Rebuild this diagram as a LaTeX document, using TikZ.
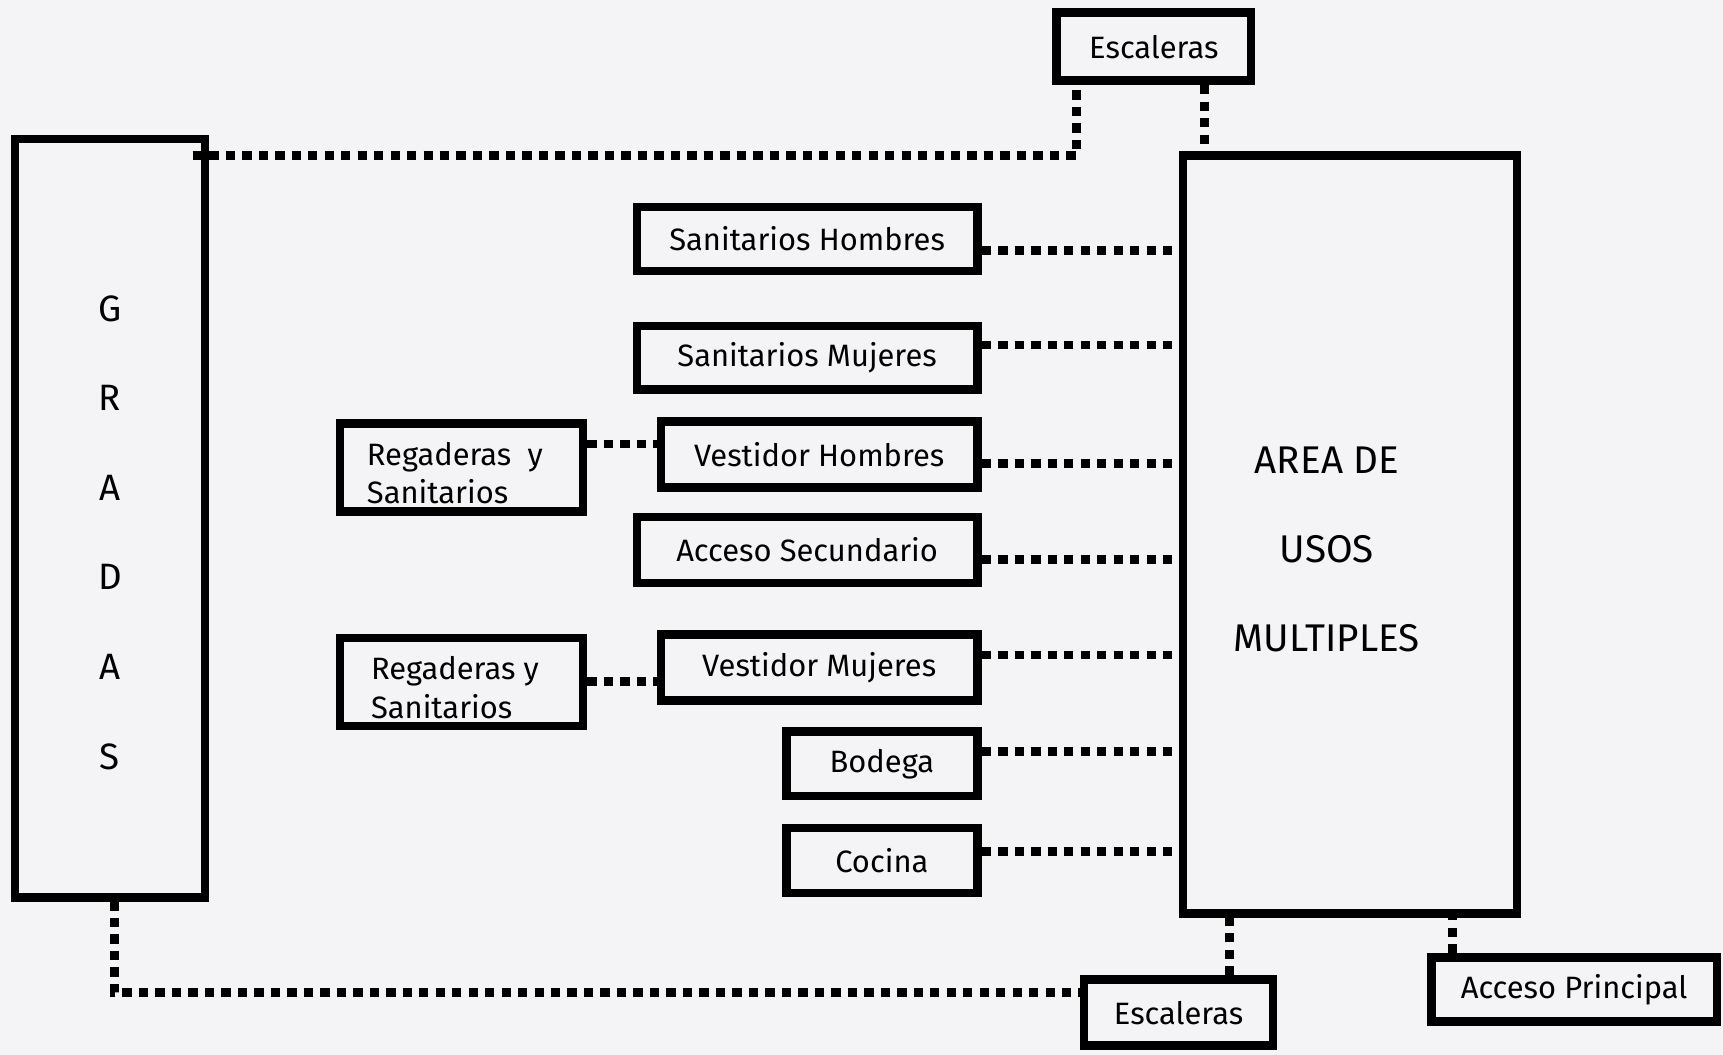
\documentclass[tikz,border=0pt]{standalone}
\usepackage{fontspec}
\setmainfont{Fira Sans}
\usetikzlibrary{calc}
\definecolor{papel}{RGB}{244,244,247}
\tikzset{
	caja/.style={draw, rectangle, line width=0.078cm, inner sep=0pt,
			font=\fontsize{8}{10}\selectfont},
	punteado/.style={line width=0.08cm, dash pattern=on 0.085cm off 0.065cm}
}

\begin{document}
\begin{tikzpicture}
	\fill[papel] (0,0) rectangle (15.68,-9.60);
	\useasboundingbox (0,0) rectangle (15.68,-9.60);

	% bloques grandes
	\node[caja, minimum width=1.73cm, minimum height=6.90cm,
		label={[align=center, yshift=-0.13cm, font=\fontsize{9.5}{23.2}\selectfont]center:G\\R\\A\\D\\A\\S}] (gradas) at (1.00,-4.715) {};
	\node[caja, minimum width=3.04cm, minimum height=6.90cm,
		label={[align=center, shift={(-0.21,-0.135)}, font=\fontsize{10}{23.1}\selectfont]center:AREA DE\\USOS\\MULTIPLES}] (area) at (12.285,-4.865) {};

	\node[caja, minimum width=1.77cm, minimum height=0.62cm] (escArr) at (10.50,-0.425) {Escaleras};
	\node[caja, minimum width=1.72cm, minimum height=0.60cm] (escAb) at (10.725,-9.215) {Escaleras};
	\node[caja, minimum width=2.60cm, minimum height=0.58cm] (accP) at (14.325,-9.005) {Acceso Principal};

	% columna de locales
	\node[caja, minimum width=3.10cm, minimum height=0.58cm] (sanH) at (7.345,-2.175) {Sanitarios Hombres};
	\node[caja, minimum width=3.10cm, minimum height=0.58cm] (sanM) at (7.345,-3.255) {Sanitarios Mujeres};
	\node[caja, minimum width=2.88cm, minimum height=0.60cm] (vesH) at (7.455,-4.135) {Vestidor Hombres};
	\node[caja, minimum width=3.10cm, minimum height=0.60cm] (accS) at (7.345,-5.005) {Acceso Secundario};
	\node[caja, minimum width=2.88cm, minimum height=0.60cm] (vesM) at (7.455,-6.075) {Vestidor Mujeres};
	\node[caja, minimum width=1.74cm, minimum height=0.59cm] (bod) at (8.025,-6.95) {Bodega};
	\node[caja, minimum width=1.74cm, minimum height=0.59cm] (coc) at (8.025,-7.83) {Cocina};

	\node[caja, minimum width=2.21cm, minimum height=0.80cm,
		label={[align=left, shift={(-0.06,-0.05)}, font=\fontsize{8}{10}\selectfont]center:Regaderas\ \ y\\Sanitarios}] (reg1) at (4.20,-4.255) {};
	\node[caja, minimum width=2.21cm, minimum height=0.80cm,
		label={[align=left, shift={(-0.06,-0.05)}, font=\fontsize{8}{10}\selectfont]center:Regaderas y\\Sanitarios}] (reg2) at (4.20,-6.205) {};

	% ligas punteadas
	\foreach \n/\d in {sanH/-0.105, sanM/0.115, vesH/-0.085, accS/-0.085, vesM/0.115, bod/0.11, coc/0.08}
		\draw[punteado] ($(\n.east)+(0,\d)$) coordinate (t) -- (t -| area.west);

	\draw[punteado] ($(reg1.east)+(0,0.215)$) coordinate (t) -- (t -| vesH.west);
	\draw[punteado] (reg2.east) coordinate (t) -- (t -| vesM.west);

	\draw[punteado] ([shift={(-0.15,-0.19)}]gradas.north east) -| ([xshift=0.22cm]escArr.south west);
	\draw[punteado] ([xshift=0.46cm]escArr.south) coordinate (t) -- (t |- area.north);

	\draw[punteado] ([xshift=0.04cm]gradas.south) |- ([yshift=0.185cm]escAb.west);
	\draw[punteado] ([xshift=0.465cm]escAb.north) coordinate (t) -- (t |- area.south);
	\draw[punteado] ([xshift=-1.105cm]accP.north) coordinate (t) -- (t |- area.south);
\end{tikzpicture}
\end{document}
